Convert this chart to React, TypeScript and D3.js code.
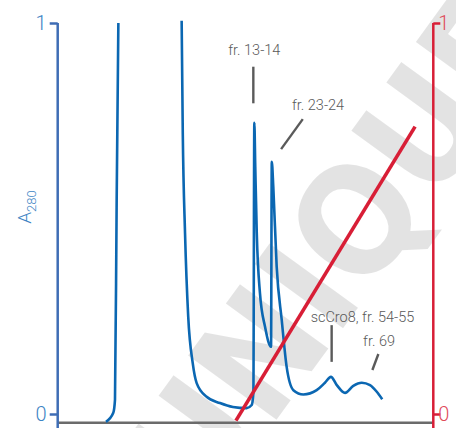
import React, { useRef, useEffect } from 'react'
import * as d3 from 'd3'

// elution volume (mL) and absorbance at 280 nm; null = off scale
const volume = [25.7, 29.6, 30.5, 31.4, 32.3, 50, 66.0, 66.6, 67.8, 69.5, 71.9, 74.0, 79.3, 86.4, 93.3, 100.6, 103.3, 104.2, 104.7, 105.2, 106.0, 107.7, 110.4, 113.6, 114.0, 114.8, 116.6, 119.3, 121.9, 125.5, 130.8, 137.9, 142.3, 145.5, 148.6, 153.0, 157.4, 161.9, 166.3, 169.9, 172.8]
const a280 = [-0.02, 0.003, 0.036, 0.547, 1.0, null, 1.006, 0.719, 0.463, 0.249, 0.13, 0.079, 0.044, 0.028, 0.018, 0.015, 0.023, 0.054, 0.745, 0.632, 0.463, 0.309, 0.223, 0.172, 0.645, 0.581, 0.377, 0.24, 0.121, 0.061, 0.05, 0.061, 0.08, 0.095, 0.074, 0.054, 0.072, 0.08, 0.074, 0.057, 0.038]

// salt gradient (right axis)
const gradVolume = [94.9, 190.3]
const gradValue = [-0.017, 0.735]

// peak labels
const annLabels = ['fr. 13-14', 'fr. 23-24', 'scCro8, fr. 54-55', 'fr. 69']
const annVolume = [104.7, 114.0, 145.5, 161.9]
const annValue = [0.745, 0.645, 0.095, 0.08]

const leftTicks = [0, 1]
const rightTicks = [0, 1]

function App() {
	const width = 456
	const height = 428
	const svgRef = useRef(null)

	useEffect(() => {
		const svg = d3.select(svgRef.current)
		svg.selectAll('*').remove()

		const x = d3.scaleLinear().domain([0, 200]).range([57.7, 433.3])
		const y = d3.scaleLinear().domain([0, 1]).range([414, 23])
		const blue = '#0b67b2'
		const red = '#d81e36'
		const gray = '#5a5a5a'

		// watermark
		svg
			.append('text')
			.attr('transform', 'translate(378,280) rotate(-54)')
			.attr('text-anchor', 'middle')
			.attr('font-family', 'DejaVu Sans Condensed, DejaVu Sans')
			.attr('font-stretch', 'condensed')
			.attr('font-weight', 'bold')
			.attr('font-size', 150)
			.attr('fill', '#000')
			.attr('fill-opacity', 0.11)
			.text('UNIQUE')

		// baseline
		svg
			.append('line')
			.attr('x1', x(0))
			.attr('x2', x(200))
			.attr('y1', 422.7)
			.attr('y2', 422.7)
			.attr('stroke', '#6b6b6b')
			.attr('stroke-width', 2.5)

		// left axis
		const yAxisL = d3.axisLeft(y).tickValues(leftTicks).tickSize(8).tickSizeOuter(0).tickFormat(d3.format('d'))
		const gL = svg.append('g').attr('transform', `translate(${x(0)},0)`).call(yAxisL)
		gL.select('.domain').remove()
		gL.append('line').attr('y1', y(1)).attr('y2', height).attr('stroke', '#3f6db5').attr('stroke-width', 2.5)
		gL.selectAll('.tick line').attr('stroke', '#3f6db5').attr('stroke-width', 2.5)
		gL.selectAll('.tick text')
			.attr('fill', '#3d84c4')
			.attr('font-family', 'Roboto')
			.attr('font-weight', 300)
			.attr('font-size', 20)
			.attr('x', -11)
		const ylab = gL.append('text')
			.attr('transform', `translate(${24 - x(0)},207) rotate(-90)`)
			.attr('text-anchor', 'middle')
			.attr('dy', '0.35em')
			.attr('fill', '#3d84c4')
			.attr('font-family', 'Roboto')
			.attr('font-weight', 300)
			.attr('font-size', 19)
		ylab.append('tspan').text('A')
		ylab.append('tspan').attr('font-size', 13).attr('dy', 5).text('280')

		// right axis
		const yAxisR = d3.axisRight(y).tickValues(rightTicks).tickSize(7).tickSizeOuter(0).tickFormat(d3.format('d'))
		const gR = svg.append('g').attr('transform', `translate(${x(200)},0)`).call(yAxisR)
		gR.select('.domain').remove()
		gR.append('line').attr('y1', y(1)).attr('y2', height).attr('stroke', red).attr('stroke-width', 2.5)
		gR.selectAll('.tick line').attr('stroke', red).attr('stroke-width', 2.5)
		gR.selectAll('.tick text')
			.attr('fill', '#df4a5a')
			.attr('font-family', 'Roboto')
			.attr('font-weight', 300)
			.attr('font-size', 20)
			.attr('x', 5)

		// A280 trace
		const trace = volume.map((v, i) => ({ v, a: a280[i] }))
		const line = d3
			.line()
			.defined((d) => d.a != null)
			.x((d) => x(d.v))
			.y((d) => y(d.a))
			.curve(d3.curveMonotoneX)
		svg
			.append('path')
			.datum(trace)
			.attr('d', line)
			.attr('fill', 'none')
			.attr('stroke', blue)
			.attr('stroke-width', 2.6)
			.attr('stroke-linejoin', 'round')

		// gradient
		svg
			.append('path')
			.datum(gradVolume.map((v, i) => ({ v, a: gradValue[i] })))
			.attr('d', d3.line().x((d) => x(d.v)).y((d) => y(d.a)))
			.attr('stroke', red)
			.attr('stroke-width', 3.6)

		// annotations: leader [x1,y1,x2,y2] and text [dx,dy] relative to the peak
		const layout = [
			{ lead: [-1, -19.4, -1, -56], text: [0, -67.7] },
			{ lead: [9.3, -12.7, 31, -42.7], text: [46.3, -51.7] },
			{ lead: [0.7, -15, 0.7, -51.7], text: [31.5, -55] },
			{ lead: [10.6, -12.7, 16.6, -28.7], text: [17.3, -37] },
		]
		annLabels.forEach((label, i) => {
			const px = x(annVolume[i])
			const py = y(annValue[i])
			const l = layout[i]
			svg
				.append('line')
				.attr('x1', px + l.lead[0])
				.attr('y1', py + l.lead[1])
				.attr('x2', px + l.lead[2])
				.attr('y2', py + l.lead[3])
				.attr('stroke', gray)
				.attr('stroke-width', 2.4)
			svg
				.append('text')
				.attr('x', px + l.text[0])
				.attr('y', py + l.text[1])
				.attr('text-anchor', 'middle')
				.attr('fill', gray)
				.attr('font-family', 'Roboto')
				.attr('font-weight', 300)
				.attr('font-size', 14.5)
				.text(label)
		})
	}, [])

	return (
		<svg
			ref={svgRef}
			width={width}
			height={height}
			style={{ position: 'absolute', left: 0, top: 0, background: '#fff' }}
		></svg>
	)
}

export default App
